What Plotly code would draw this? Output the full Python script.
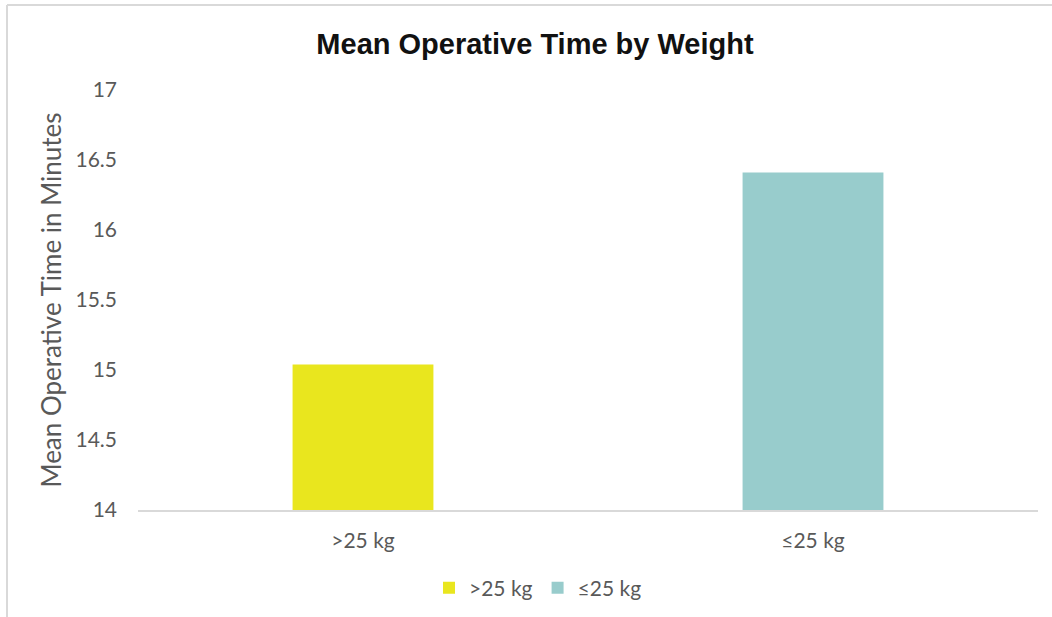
import plotly.graph_objects as go

# Mean operative time (minutes) per weight group
categories = [">25 kg", "≤25 kg"]
mean_minutes = [15.04, 16.41]
bar_colors = ["#E9E61E", "#98CCCC"]
y_ticks = [14, 14.5, 15, 15.5, 16, 16.5, 17]

BASE_FONT = "Lato, 'Open Sans', sans-serif"
TICK_FONT = dict(family=BASE_FONT, size=21, color="#595959")

fig = go.Figure()
for cat, val, col in zip(categories, mean_minutes, bar_colors):
    fig.add_trace(go.Bar(
        x=[cat], y=[val], name=cat,
        marker=dict(color=col, line=dict(width=0)),
        base=0,
    ))

fig.update_layout(
    width=1052, height=617,
    paper_bgcolor="white", plot_bgcolor="white",
    margin=dict(l=138, r=14, t=90, b=107),
    barmode="overlay",
    bargap=0.687,
    title=dict(
        text="Mean Operative Time by Weight",
        font=dict(family="Liberation Sans, Arial, sans-serif", size=29, color="#111111", weight=600),
        x=535 / 1052, xanchor="center", y=1 - 44 / 617, yanchor="middle",
    ),
    showlegend=True,
    legend=dict(
        orientation="h", x=538 / 1052, xanchor="center",
        xref="container", yref="container",
        y=1 - 588 / 617, yanchor="middle",
        font=TICK_FONT, itemwidth=30, tracegroupgap=0,
    ),
)

fig.update_xaxes(
    type="category", categoryorder="array", categoryarray=categories,
    showline=True, linecolor="#D9D9D9", linewidth=2,
    showgrid=False, ticks="", tickfont=TICK_FONT, ticklabelstandoff=11,
)
fig.update_yaxes(
    range=[14, 17], tickvals=y_ticks, ticktext=[f"{v:g}" for v in y_ticks],
    showgrid=False, zeroline=False, showline=False, ticks="",
    tickfont=TICK_FONT, ticklabelstandoff=20,
    title=dict(text="Mean Operative Time in Minutes",
               font=dict(family=BASE_FONT, size=26, color="#595959"),
               standoff=6),
)

# Chart-area frame (top and left edges)
px_x = lambda p: (p - 138) / 900
px_y = lambda p: (510 - p) / 420
frame = dict(type="line", xref="paper", yref="paper",
             line=dict(color="#D9D9D9", width=2), layer="below")
fig.add_shape(**frame, x0=px_x(7), x1=px_x(1060), y0=px_y(5), y1=px_y(5))
fig.add_shape(**frame, x0=px_x(7), x1=px_x(7), y0=px_y(5), y1=px_y(630))

fig.write_html("out.html")
